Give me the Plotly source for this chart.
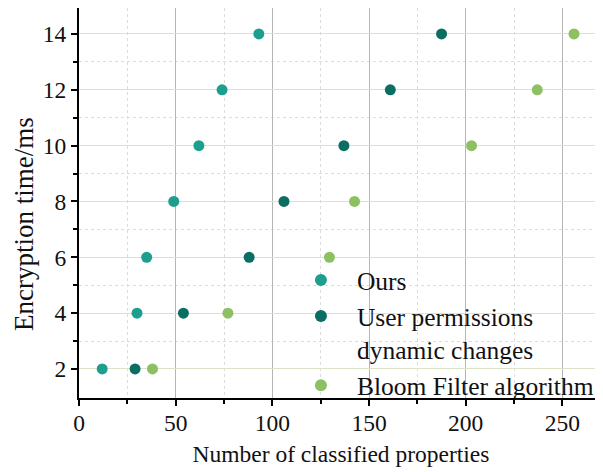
import plotly.graph_objects as go

y_vals = [2, 4, 6, 8, 10, 12, 14]
ours_x = [12, 30, 35, 49, 62, 74, 93]
user_x = [29, 54, 88, 106, 137, 161, 187.5]
bloom_x = [38, 77, 129.5, 142.5, 203, 237, 256]

names = ["Ours", "User permissions<br>dynamic changes", "Bloom Filter algorithm"]
colors = ["#1c9f8e", "#0b6e62", "#8cc063"]

fig = go.Figure()
for xs, nm, c in zip([ours_x, user_x, bloom_x], names, colors):
    fig.add_trace(go.Scatter(x=xs, y=y_vals, mode="markers", name=nm,
                             marker=dict(color=c, size=11, line=dict(width=0))))

fam = "Liberation Serif, Times New Roman, serif"
font = dict(family=fam, size=23.5, color="#111")

# page body has an 8px margin; the figure is sized to fit the 603x472 window
fig.update_layout(
    width=595, height=464,
    margin=dict(l=71, r=0, t=0, b=74),
    paper_bgcolor="white", plot_bgcolor="white",
    font=font,
    showlegend=True,
    legend=dict(x=0.393, y=0.362, xanchor="left", yanchor="top",
                bgcolor="rgba(0,0,0,0)", font=dict(family=fam, size=25.5, color="#111"),
                valign="top", tracegroupgap=0, itemsizing="constant", itemwidth=62),
    annotations=[dict(text="Encryption time/ms", textangle=-90, showarrow=False,
                      xref="paper", yref="paper", x=-0.105, y=0.446,
                      xanchor="center", yanchor="middle",
                      font=dict(family=fam, size=27, color="#111"))],
)
fig.update_xaxes(
    range=[0, 271], tickvals=[0, 50, 100, 150, 200, 250],
    showline=True, linecolor="black", linewidth=2, mirror=True,
    ticks="outside", ticklen=6, tickcolor="black", tickwidth=1.5,
    showgrid=True, gridcolor="#b5b5b5", gridwidth=1,
    zeroline=False, automargin=False, ticklabelstandoff=-3,
    minor=dict(tickvals=[25, 75, 125, 175, 225], ticks="outside", ticklen=4,
               tickcolor="black", showgrid=True, gridcolor="#dcdcdc", griddash="dot"),
    title=dict(text="Number of classified properties", font=font, standoff=10),
    tickfont=font,
)
fig.update_yaxes(
    range=[0.96, 14.93], tickvals=[2, 4, 6, 8, 10, 12, 14],
    showline=True, linecolor="black", linewidth=2,
    ticks="outside", ticklen=6, tickcolor="black", tickwidth=1.5,
    showgrid=True, gridcolor="#dde3c6", gridwidth=1,
    zeroline=False, automargin=False,
    minor=dict(tickvals=[3, 5, 7, 9, 11, 13], ticks="outside", ticklen=4,
               tickcolor="black", showgrid=True, gridcolor="#dcdcdc", griddash="dot"),
    tickfont=font,
)
fig.write_html("out.html")
